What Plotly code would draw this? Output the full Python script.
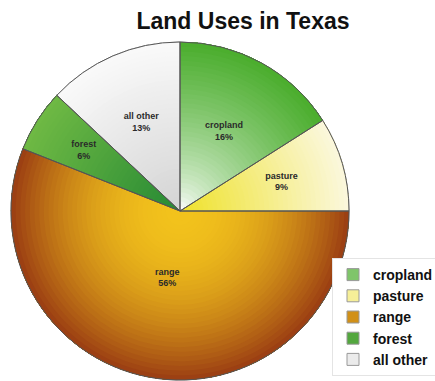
import plotly.graph_objects as go

# Land use shares in Texas (percent)
labels = ["cropland", "pasture", "range", "forest", "all other"]
values = [16, 9, 56, 6, 13]

# Inner (near centre) and outer (rim) colours for each slice's shading
inner_colors = ["#ffffff", "#efe22c", "#f2c21c", "#278a34", "#d4d4d4"]
outer_colors = ["#48ac2a", "#fbf8e0", "#973812", "#70ba44", "#fafafa"]
shade_power = [0.7, 1.0, 2.0, 1.0, 1.0]

W, H = 435, 381
cx, cy, R = 180, 211, 169


def domain(r):
    return dict(x=[(cx - r) / W, (cx + r) / W], y=[(H - cy - r) / H, (H - cy + r) / H])


def hex_to_rgb(h):
    h = h.lstrip("#")
    return tuple(int(h[i:i + 2], 16) for i in (0, 2, 4))


def mix(c1, c2, t):
    a, b = hex_to_rgb(c1), hex_to_rgb(c2)
    return "rgb({},{},{})".format(*[round(a[i] + (b[i] - a[i]) * t) for i in range(3)])


FONT = "Liberation Sans, Arial, sans-serif"
fig = go.Figure()

# Legend entries (drawn first, hidden beneath the shaded rings)
legend_cols = [mix(inner_colors[i], outer_colors[i], 0.6 ** shade_power[i]) for i in range(len(labels))]
fig.add_trace(go.Pie(
    labels=labels, values=values, sort=False, direction="clockwise", rotation=0,
    domain=domain(R),
    marker=dict(colors=legend_cols, line=dict(color="#999999", width=1)),
    textinfo="none", hoverinfo="skip", showlegend=True,
))

# Concentric rings give each slice a radial shading
N_RINGS = 36
for k in range(N_RINGS):
    h = k / N_RINGS
    cols = [mix(inner_colors[i], outer_colors[i], h ** shade_power[i]) for i in range(len(labels))]
    fig.add_trace(go.Pie(
        labels=labels, values=values, hole=h, sort=False, direction="clockwise",
        rotation=0, domain=domain(R),
        marker=dict(colors=cols, line=dict(width=0)),
        textinfo="none", hoverinfo="skip", showlegend=False,
    ))

# Slice outlines
fig.add_trace(go.Pie(
    labels=labels, values=values, sort=False, direction="clockwise", rotation=0,
    domain=domain(R),
    marker=dict(colors=["rgba(0,0,0,0)"] * len(labels), line=dict(color="#555555", width=1)),
    textinfo="none", hoverinfo="skip", showlegend=False,
))

# Slice labels, placed a little closer to the centre
fig.add_trace(go.Pie(
    labels=labels, values=values, sort=False, direction="clockwise", rotation=0,
    domain=domain(R * 0.8),
    marker=dict(colors=["rgba(0,0,0,0)"] * len(labels), line=dict(width=0)),
    texttemplate="<b>%{label}<br>%{value}%</b>",
    textposition="inside", insidetextorientation="horizontal",
    textfont=dict(family=FONT, size=9, color="#2a2a2a"),
    hoverinfo="skip", showlegend=False,
))

fig.update_layout(
    width=W, height=H,
    margin=dict(l=0, r=0, t=0, b=0, autoexpand=False),
    paper_bgcolor="white", plot_bgcolor="white",
    title=dict(text="<b>Land Uses in Texas</b>", x=243 / W, xref="paper", xanchor="center",
               y=1 - 21 / H, yref="container", yanchor="middle",
               font=dict(family=FONT, size=23, color="#111111")),
    legend=dict(x=1 + 4 / W, xanchor="right", y=5 / H, yanchor="bottom",
                font=dict(family=FONT, size=14, color="#111111", weight="bold"),
                bordercolor="#e4e4e4", borderwidth=1, bgcolor="white", traceorder="normal",
                itemwidth=30),
)

fig.write_html("out.html")
